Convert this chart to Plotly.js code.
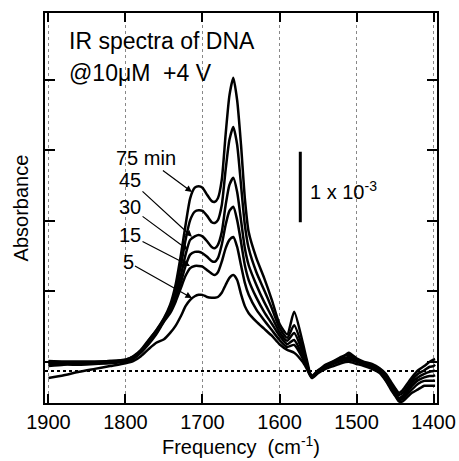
<!DOCTYPE html>
<html>
<head>
<meta charset="utf-8">
<script src="https://cdn.plot.ly/plotly-3.0.1.min.js"></script>
<style>html,body{margin:0;padding:0;background:#fff;}#chart{width:459px;height:461px;}</style>
</head>
<body>
<div id="chart"></div>
<script>
// Wavenumber (cm^-1)
const wavenumber = [1900,1880,1860,1840,1820,1800,1790,1780,1770,1760,1750,1742,1735,1728,1722,1716,1710,1705,1700,1694,1688,1684,1680,1675,1670,1665,1660,1655,1650,1645,1640,1630,1620,1610,1600,1590,1581,1570,1565,1558,1550,1540,1530,1520,1510,1500,1490,1480,1470,1462,1455,1450,1445,1440,1434,1428,1420,1412,1405,1400,1398];

// Absorbance, in units of 1e-3
const abs75 = [0.14,0.13,0.13,0.13,0.14,0.16,0.21,0.30,0.44,0.58,0.75,0.94,1.22,1.65,2.07,2.45,2.60,2.62,2.60,2.50,2.41,2.40,2.45,2.71,3.35,3.91,4.16,3.84,3.21,2.45,1.97,1.60,1.32,1.01,0.67,0.52,0.84,0.41,0.18,-0.09,-0.01,0.07,0.13,0.18,0.26,0.18,0.13,0.10,0.04,-0.04,-0.16,-0.24,-0.31,-0.27,-0.18,-0.09,0.01,0.07,0.13,0.16,0.17];
const abs60 = [0.13,0.13,0.13,0.13,0.14,0.16,0.20,0.28,0.43,0.57,0.74,0.91,1.15,1.50,1.86,2.14,2.26,2.28,2.27,2.20,2.11,2.10,2.14,2.35,2.85,3.28,3.46,3.21,2.64,2.07,1.74,1.40,1.15,0.89,0.61,0.47,0.65,0.33,0.13,-0.09,0.00,0.09,0.14,0.20,0.23,0.17,0.11,0.09,0.03,-0.07,-0.18,-0.27,-0.34,-0.31,-0.23,-0.13,-0.04,0.01,0.06,0.07,0.09];
const abs45 = [0.11,0.11,0.11,0.11,0.13,0.14,0.20,0.28,0.41,0.55,0.72,0.88,1.08,1.36,1.65,1.86,1.91,1.93,1.91,1.84,1.76,1.74,1.79,1.97,2.35,2.64,2.74,2.54,2.14,1.74,1.50,1.22,0.98,0.77,0.55,0.43,0.54,0.27,0.10,-0.07,0.01,0.07,0.13,0.17,0.20,0.16,0.10,0.07,0.01,-0.09,-0.21,-0.31,-0.38,-0.35,-0.27,-0.17,-0.09,-0.04,-0.01,0.00,0.01];
const abs30 = [0.09,0.10,0.10,0.11,0.13,0.14,0.18,0.27,0.40,0.54,0.71,0.85,1.04,1.26,1.49,1.65,1.69,1.69,1.67,1.62,1.56,1.55,1.60,1.79,2.07,2.27,2.33,2.14,1.83,1.50,1.29,1.04,0.84,0.67,0.50,0.38,0.44,0.21,0.07,-0.07,0.00,0.06,0.11,0.16,0.18,0.14,0.10,0.06,0.00,-0.11,-0.24,-0.34,-0.41,-0.38,-0.30,-0.21,-0.13,-0.09,-0.07,-0.07,-0.06];
const abs15 = [0.07,0.09,0.09,0.10,0.11,0.13,0.17,0.26,0.38,0.52,0.70,0.82,0.98,1.18,1.35,1.46,1.49,1.49,1.48,1.43,1.38,1.36,1.40,1.55,1.74,1.86,1.90,1.76,1.50,1.25,1.08,0.87,0.72,0.58,0.44,0.34,0.37,0.18,0.06,-0.09,-0.01,0.04,0.10,0.14,0.16,0.13,0.09,0.04,-0.01,-0.13,-0.24,-0.33,-0.40,-0.40,-0.33,-0.26,-0.18,-0.14,-0.14,-0.14,-0.14];
const abs5 = [-0.10,-0.06,-0.01,0.03,0.07,0.11,0.14,0.21,0.31,0.40,0.45,0.54,0.64,0.78,0.92,1.01,1.06,1.08,1.08,1.05,1.04,1.04,1.05,1.11,1.22,1.32,1.36,1.29,1.09,0.92,0.82,0.70,0.60,0.50,0.38,0.30,0.26,0.13,0.04,-0.10,-0.03,0.03,0.07,0.11,0.13,0.10,0.07,0.03,-0.03,-0.14,-0.27,-0.35,-0.43,-0.43,-0.37,-0.31,-0.26,-0.21,-0.21,-0.21,-0.21];

const series = [abs75, abs60, abs45, abs30, abs15, abs5];
const seriesNames = ['75 min', '60 min', '45 min', '30 min', '15 min', '5 min'];
const xTicks = [1900, 1800, 1700, 1600, 1500, 1400];
const scaleBarLength = 1; // 1 x 10^-3

const FONT = 'Liberation Sans, Arial, Helvetica, sans-serif';

const traces = series.map((ys, i) => ({
  x: wavenumber, y: ys, type: 'scatter', mode: 'lines', name: seriesNames[i],
  line: {color: '#000', width: 2.5, shape: 'spline', smoothing: 0.6},
  hoverinfo: 'skip'
}));

function arrowLabel(text, x, y, ax, ay) {
  return {text: text, xref: 'paper', yref: 'paper', x: x, y: y, ax: ax, ay: ay,
    showarrow: true, arrowhead: 2, arrowsize: 1.1, arrowwidth: 1.2, arrowcolor: '#000',
    font: {family: FONT, size: 20, color: '#000'}};
}

const layout = {
  width: 459, height: 461,
  margin: {l: 45, r: 22, t: 13, b: 58},
  paper_bgcolor: '#fff', plot_bgcolor: '#fff',
  showlegend: false,
  font: {family: FONT, color: '#000'},
  xaxis: {
    range: [1904.5, 1395.5], tickvals: xTicks, ticktext: xTicks.map(String),
    ticks: 'inside', ticklen: 9, tickwidth: 2, tickcolor: '#000',
    showline: true, linewidth: 2, linecolor: '#000', mirror: 'ticks',
    showgrid: true, gridcolor: '#888', griddash: 'dot', gridwidth: 1,
    zeroline: false, tickfont: {family: FONT, size: 20, color: '#000'},
    title: {text: 'Frequency \u00a0(cm<sup>-1</sup>)', font: {family: FONT, size: 20, color: '#000'}, standoff: 6}
  },
  yaxis: {
    range: [-0.454, 5.078], tick0: 0.128, dtick: 1,
    ticks: 'inside', ticklen: 10, tickwidth: 2, tickcolor: '#000',
    showline: true, linewidth: 2, linecolor: '#000', mirror: 'ticks',
    showgrid: false, zeroline: false, showticklabels: false,
    title: {text: 'Absorbance', font: {family: FONT, size: 20, color: '#000'}, standoff: 9}
  },
  shapes: [
    {type: 'line', xref: 'paper', yref: 'y', x0: 0, x1: 1, y0: 0, y1: 0,
     line: {color: '#000', width: 2, dash: '3px,3px'}},
    {type: 'line', xref: 'x', yref: 'y', x0: 1573, x1: 1573, y0: 2.11, y1: 2.11 + scaleBarLength,
     line: {color: '#000', width: 3}}
  ],
  annotations: [
    {text: 'IR spectra of DNA', xref: 'paper', yref: 'paper', x: 0.056, y: 0.928, xanchor: 'left', yanchor: 'middle', showarrow: false,
     font: {family: FONT, size: 23, color: '#000'}},
    {text: '@10\u03bcM\u00a0\u00a0+4 V', xref: 'paper', yref: 'paper', x: 0.056, y: 0.846, xanchor: 'left', yanchor: 'middle', showarrow: false,
     font: {family: FONT, size: 23, color: '#000'}},
    {text: '1 x 10<sup>-3</sup>', xref: 'paper', yref: 'paper', x: 0.671, y: 0.546, xanchor: 'left', yanchor: 'middle', showarrow: false,
     font: {family: FONT, size: 20, color: '#000'}},
    arrowLabel('75 min', 0.375, 0.541, -46, -34),
    arrowLabel('45', 0.375, 0.426, -62, -57),
    arrowLabel('30', 0.365, 0.392, -58, -43),
    arrowLabel('15', 0.370, 0.351, -60, -31),
    arrowLabel('5', 0.375, 0.269, -64, -36)
  ]
};

Plotly.newPlot('chart', traces, layout, {staticPlot: true, displayModeBar: false});
</script>
</body>
</html>
